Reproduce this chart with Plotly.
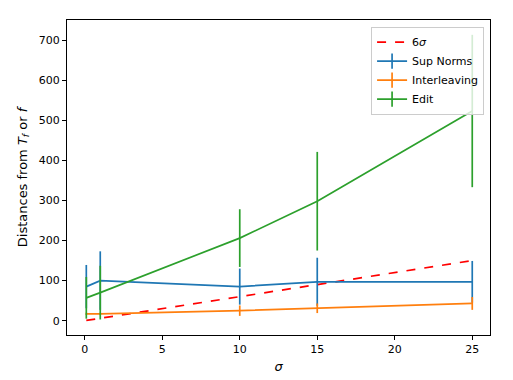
import plotly.graph_objects as go

sigma = [0.1, 1, 10, 15, 25]
six_sigma = [6 * s for s in sigma]

sup_norms = [85, 100, 85, 97, 97]
sup_norms_err = [54, 73, 45, 60, 52]

interleaving = [17, 17, 25, 31, 43]
interleaving_err = [3, 3, 13, 12, 16]

edit = [57, 70, 206, 298, 523]
edit_err = [52, 67, 72, 123, 190]

BLUE = "#1f77b4"
ORANGE = "#ff7f0e"
GREEN = "#2ca02c"

fig = go.Figure()

fig.add_trace(go.Scatter(x=sigma, y=six_sigma, mode="lines", name="6<i>σ</i>",
                         line=dict(color="red", width=1.7, dash="dash")))


def errtrace(y, err, name, color):
    return go.Scatter(
        x=sigma, y=y, mode="lines", name=name, showlegend=False,
        line=dict(color=color, width=1.7),
        error_y=dict(type="data", array=err, width=0, thickness=1.7, color=color),
    )


def legend_entry(name, color):
    # legend-only trace so the key shows the errorbar cross
    return go.Scatter(
        x=[None], y=[None], mode="lines+markers", name=name,
        line=dict(color=color, width=1.7),
        marker=dict(symbol="line-ns-open", size=11, color=color,
                    line=dict(color=color, width=1.7)),
    )


for y, err, name, color in [(sup_norms, sup_norms_err, "Sup Norms", BLUE),
                            (interleaving, interleaving_err, "Interleaving", ORANGE),
                            (edit, edit_err, "Edit", GREEN)]:
    fig.add_trace(errtrace(y, err, name, color))
for name, color in [("Sup Norms", BLUE), ("Interleaving", ORANGE), ("Edit", GREEN)]:
    fig.add_trace(legend_entry(name, color))

axis_style = dict(
    showline=True, linecolor="black", linewidth=1, mirror=True,
    ticks="outside", ticklen=4, tickcolor="black", showgrid=False,
    zeroline=False, tickfont=dict(size=11, color="black"), automargin=False,
)

# page body adds an 8px offset, so the figure is 8px smaller than the window
fig.update_layout(
    width=505, height=372,
    margin=dict(l=59, r=23, t=12, b=45),
    paper_bgcolor="white", plot_bgcolor="white",
    font=dict(family="DejaVu Sans", size=11, color="black"),
    xaxis=dict(range=[-1.145, 26.145], tickvals=[0, 5, 10, 15, 20, 25],
               title=dict(text="<i>σ</i>", standoff=6), **axis_style),
    yaxis=dict(range=[-35.7, 750], tickvals=[0, 100, 200, 300, 400, 500, 600, 700],
               title=dict(text="Distances from <i>T<sub>f</sub></i> or <i>f</i>", standoff=8),
               **axis_style),
    legend=dict(x=0.986, y=0.979, xanchor="right", yanchor="top",
                bgcolor="rgba(255,255,255,0.8)", bordercolor="#cccccc", borderwidth=1,
                font=dict(size=11), tracegroupgap=0),
    showlegend=True,
)

fig.write_html("out.html")
